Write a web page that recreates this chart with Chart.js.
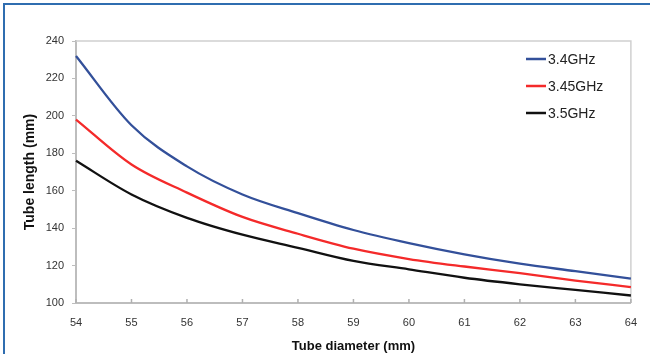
<!DOCTYPE html>
<html><head><meta charset="utf-8">
<script src="https://cdn.jsdelivr.net/npm/chart.js@4.4.0/dist/chart.umd.min.js"></script>
<style>html,body{margin:0;padding:0;background:#fff;}#wrap{position:relative;width:650px;height:354px;}</style>
</head><body><div id="wrap"><canvas id="c" width="650" height="354"></canvas></div>
<script>
const diameters = ['54','55','56','57','58','59','60','61','62','63','64'];
const len34 = [232, 195, 173, 158, 148, 139, 132, 126, 121, 117, 113];
const len345 = [198, 174, 159, 146, 137, 129, 123.5, 119.5, 116, 112, 108.5];
const len35 = [176, 158, 145.5, 136.5, 129.5, 122.5, 118, 113.5, 110, 107, 104];
const seriesLabels = ['3.4GHz', '3.45GHz', '3.5GHz'];
const seriesColors = ['#33509a', '#f42a2a', '#111111'];
const yMin = 100, yMax = 240, yStep = 20;

const FONT = '"Liberation Sans", Arial, sans-serif';

const framePlugin = {
  id: 'frame',
  beforeDraw(chart) {
    const ctx = chart.ctx;
    ctx.save();
    ctx.fillStyle = '#fff';
    ctx.fillRect(0, 0, chart.width, chart.height);
    ctx.strokeStyle = '#2f6db0';
    ctx.lineWidth = 2;
    ctx.beginPath();
    ctx.moveTo(4, chart.height);
    ctx.lineTo(4, 4);
    ctx.lineTo(chart.width, 4);
    ctx.stroke();
    ctx.restore();
  },
  beforeDatasetsDraw(chart) {
    const ctx = chart.ctx, a = chart.chartArea;
    ctx.save();
    ctx.strokeStyle = '#d0d0d0';
    ctx.lineWidth = 1.5;
    ctx.beginPath();
    ctx.moveTo(a.left, a.top);
    ctx.lineTo(a.right, a.top);
    ctx.lineTo(a.right, a.bottom);
    ctx.stroke();
    const xs = chart.scales.x;
    ctx.strokeStyle = '#b0b0b0';
    ctx.lineWidth = 1.5;
    for (let i = 0; i < xs.ticks.length; i++) {
      const px = xs.getPixelForTick(i);
      ctx.beginPath();
      ctx.moveTo(px, a.bottom);
      ctx.lineTo(px, a.bottom - 4);
      ctx.stroke();
    }
    ctx.restore();
  },
  afterDraw(chart) {
    const ctx = chart.ctx;
    ctx.save();
    ctx.font = '14px ' + FONT;
    ctx.textBaseline = 'middle';
    ctx.textAlign = 'left';
    const ys = [59, 86, 113];
    chart.data.datasets.forEach((ds, i) => {
      ctx.strokeStyle = ds.borderColor;
      ctx.lineWidth = 2.5;
      ctx.beginPath();
      ctx.moveTo(526, ys[i]);
      ctx.lineTo(546, ys[i]);
      ctx.stroke();
      ctx.fillStyle = '#222';
      ctx.fillText(ds.label, 548, ys[i] + 1);
    });
    ctx.restore();
  }
};

new Chart(document.getElementById('c'), {
  type: 'line',
  data: {
    labels: diameters,
    datasets: [
      { label: seriesLabels[0], data: len34, borderColor: seriesColors[0] },
      { label: seriesLabels[1], data: len345, borderColor: seriesColors[1] },
      { label: seriesLabels[2], data: len35, borderColor: seriesColors[2] }
    ].map(d => Object.assign(d, { borderWidth: 2.3, pointRadius: 0, tension: 0.4, cubicInterpolationMode: 'monotone', fill: false }))
  },
  options: {
    responsive: false,
    animation: false,
    devicePixelRatio: 1,
    layout: { padding: { top: 41, right: 16, left: 0, bottom: 0 } },
    plugins: { legend: { display: false }, tooltip: { enabled: false } },
    scales: {
      x: {
        type: 'category',
        offset: false,
        grid: { display: true, drawOnChartArea: false, drawTicks: false, offset: false },
        border: { color: '#bdbdbd', width: 2 },
        ticks: { padding: 13, color: '#333', font: { family: FONT, size: 11 }, maxRotation: 0, autoSkip: false },
        title: { display: true, text: 'Tube diameter (mm)', color: '#111', font: { family: FONT, size: 13, weight: 'bold' }, padding: { top: 0, bottom: 0 } },
        afterFit(s) { s.height = 51; }
      },
      y: {
        min: yMin, max: yMax,
        grid: { display: true, drawOnChartArea: false, drawTicks: true, tickLength: 4, color: '#bdbdbd' },
        border: { color: '#bdbdbd', width: 2 },
        ticks: { stepSize: yStep, padding: 8, color: '#333', font: { family: FONT, size: 11 } },
        title: { display: true, text: 'Tube length (mm)', color: '#111', font: { family: FONT, size: 14, weight: 'bold' }, padding: { top: 22, bottom: 0 } },
        afterFit(s) { s.width = 76; }
      }
    }
  },
  plugins: [framePlugin]
});
</script></body></html>
